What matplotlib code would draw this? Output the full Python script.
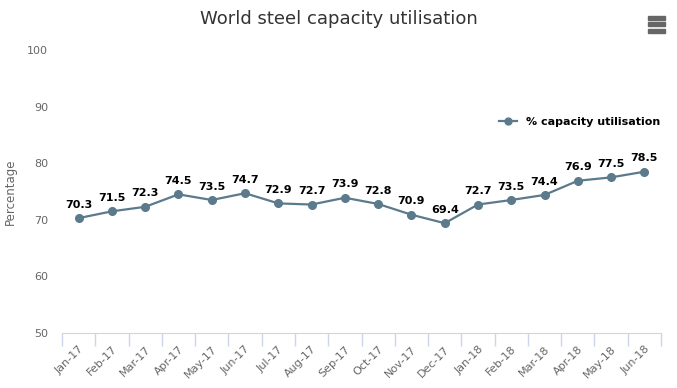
import numpy as np
import matplotlib.pyplot as plt
from matplotlib.patches import Rectangle

months = ["Jan-17", "Feb-17", "Mar-17", "Apr-17", "May-17", "Jun-17", "Jul-17", "Aug-17", "Sep-17",
          "Oct-17", "Nov-17", "Dec-17", "Jan-18", "Feb-18", "Mar-18", "Apr-18", "May-18", "Jun-18"]
utilisation = [70.3, 71.5, 72.3, 74.5, 73.5, 74.7, 72.9, 72.7, 73.9,
               72.8, 70.9, 69.4, 72.7, 73.5, 74.4, 76.9, 77.5, 78.5]
y_ticks = [50, 60, 70, 80, 90, 100]

line_color = "#5b7a8c"
axis_color = "#ccd6eb"
text_gray = "#666666"

fig = plt.figure(figsize=(6.77, 3.88), dpi=100)
ax = fig.add_axes([0.0916, 0.1418, 0.8848, 0.7292])

x = np.arange(len(months))
ax.plot(x, utilisation, color=line_color, linewidth=1.6, marker="o", markersize=5.5,
        label="% capacity utilisation", zorder=3)

for xi, v in zip(x, utilisation):
    ax.annotate(f"{v:.1f}", (xi, v), xytext=(0, 6), textcoords="offset points",
                ha="center", va="bottom", fontsize=8, fontweight="bold", color="#000000")

ax.set_xlim(-0.5, len(months) - 0.5)
ax.set_ylim(50, 100)
ax.set_yticks(y_ticks)
ax.set_xticks(x)
ax.set_xticklabels(months, rotation=45, ha="right", rotation_mode="anchor")
ax.set_xticks(np.arange(-0.5, len(months), 1), minor=True)
ax.tick_params(axis="x", which="major", length=0, labelsize=8, colors=text_gray, pad=8)
ax.tick_params(axis="x", which="minor", length=9, color=axis_color, width=1)
ax.tick_params(axis="y", length=0, labelsize=8, colors=text_gray, pad=10)

for side in ["top", "right", "left"]:
    ax.spines[side].set_visible(False)
ax.spines["bottom"].set_color(axis_color)

ax.set_ylabel("Percentage", fontsize=8.5, color=text_gray)
ax.yaxis.set_label_coords(-0.075, 0.5)
fig.suptitle("World steel capacity utilisation", fontsize=13, color="#333333", y=0.975)

leg = ax.legend(loc="upper right", bbox_to_anchor=(1.015, 0.8), frameon=False,
                prop={"weight": "bold", "size": 8}, handlelength=1.6, markerscale=0.9)

# menu icon
for i in range(3):
    fig.patches.append(Rectangle((0.957, 0.949 - i * 0.017), 0.026, 0.0105,
                                 transform=fig.transFigure, color="#666666"))

plt.savefig("out.png", dpi=100)
